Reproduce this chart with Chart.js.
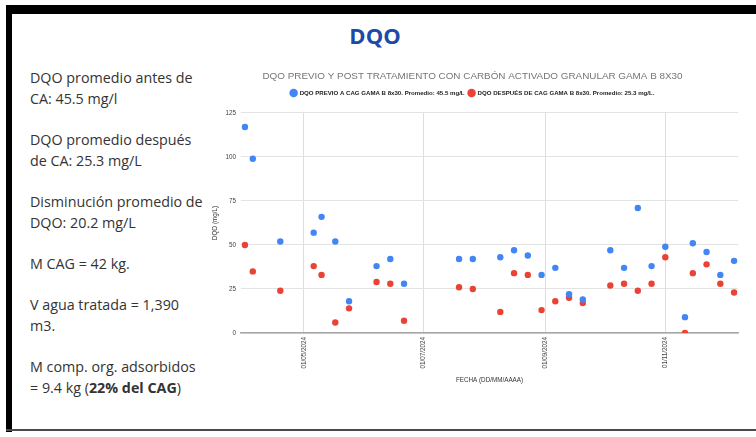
<!DOCTYPE html>
<html>
<head>
<meta charset="utf-8">
<script src="https://cdn.jsdelivr.net/npm/chart.js@4.4.1/dist/chart.umd.min.js"></script>
<style>
  html, body { margin: 0; padding: 0; background: #fff; }
  body { width: 756px; height: 437px; position: relative; overflow: hidden; }
  .bar { position: absolute; background: #000; }
  #slideTitle { position: absolute; left: 0; width: 750px; top: 20px; text-align: center;
    font-family: "Open Sans", sans-serif; font-weight: 700; font-size: 22px; color: #1b4aa7; line-height: 30px; }
  #notes { position: absolute; left: 30px; top: 67px; width: 200px;
    font-family: "Open Sans", sans-serif; font-size: 14.3px; color: #333; line-height: 21px; }
  #notes p { margin: 0 0 20px 0; }
  #wrap { position: absolute; left: 195px; top: 60px; width: 555px; height: 330px; }
</style>
</head>
<body>
<div class="bar" style="left:6px; top:5px; width:750px; height:9px;"></div>
<div class="bar" style="left:6px; top:5px; width:6px; height:427px;"></div>
<div class="bar" style="left:6px; top:429px; width:750px; height:2px; background:#4a4a4a;"></div>
<div id="slideTitle">DQO</div>
<div id="notes">
  <p>DQO promedio antes de<br>CA: 45.5 mg/l</p>
  <p>DQO promedio después<br>de CA: 25.3 mg/L</p>
  <p>Disminución promedio de<br>DQO: 20.2 mg/L</p>
  <p>M CAG = 42 kg.</p>
  <p>V agua tratada = 1,390<br>m3.</p>
  <p>M comp. org. adsorbidos<br>= 9.4 kg (<b>22% del CAG</b>)</p>
</div>
<div id="wrap"><canvas id="c"></canvas></div>
<script>
const fechas = ['2024-04-01','2024-04-05','2024-04-19','2024-05-06','2024-05-10','2024-05-17','2024-05-24',
  '2024-06-07','2024-06-14','2024-06-21','2024-07-19','2024-07-26','2024-08-09','2024-08-16','2024-08-23',
  '2024-08-30','2024-09-06','2024-09-13','2024-09-20','2024-10-04','2024-10-11','2024-10-18','2024-10-25',
  '2024-11-01','2024-11-11','2024-11-15','2024-11-22','2024-11-29','2024-12-06'];
const dqoPrevio = [117,99,52,57,66,52,18,38,42,28,42,42,43,47,44,33,37,22,19,47,37,71,38,49,9,51,46,33,41];
const dqoDespues = [50,35,24,38,33,6,14,29,28,7,26,25,12,34,33,13,18,20,17,27,28,24,28,43,0,34,39,28,23];
const tickLabels = ['01/05/2024','01/07/2024','01/09/2024','01/11/2024'];
const yTicks = [0,25,50,75,100,125];
const xRange = ['2024-03-30','2024-12-08'];
const seriesNames = ['DQO PREVIO A CAG GAMA B 8x30. Promedio: 45.5 mg/L','DQO DESPUÉS DE CAG GAMA B 8x30. Promedio: 25.3 mg/L.'];
const chartTitle = 'DQO PREVIO Y POST TRATAMIENTO CON CARBÓN ACTIVADO GRANULAR GAMA B 8X30';

const toMs = s => Date.parse(s + 'T00:00:00Z');
const fromLabel = l => { const [d,m,y] = l.split('/'); return Date.UTC(+y, +m - 1, +d); };
const fmt = v => { const d = new Date(v); const p = n => String(n).padStart(2,'0');
  return p(d.getUTCDate()) + '/' + p(d.getUTCMonth()+1) + '/' + d.getUTCFullYear(); };

const pts = arr => fechas.map((f,i) => ({x: toMs(f), y: arr[i]}));

// empty layout box between the legend and the plot area
const spacerPlugin = {
  id: 'spacer',
  beforeInit(chart) {
    const box = {
      position: 'top', weight: 500, fullSize: true, options: {},
      top: 0, left: 0, right: 0, bottom: 0, width: 0, height: 0,
      isHorizontal() { return true; },
      update(maxWidth) { this.width = maxWidth; this.height = 7; },
      draw() {}
    };
    Chart.layouts.addBox(chart, box);
  }
};

new Chart(document.getElementById('c'), {
  type: 'scatter',
  plugins: [spacerPlugin],
  data: {
    datasets: [
      { label: seriesNames[0], data: pts(dqoPrevio), backgroundColor: '#4285F4', borderWidth: 0, pointRadius: 3.2, pointHoverRadius: 3.2 },
      { label: seriesNames[1], data: pts(dqoDespues), backgroundColor: '#EA4335', borderWidth: 0, pointRadius: 3.2, pointHoverRadius: 3.2 }
    ]
  },
  options: {
    responsive: true, maintainAspectRatio: false, animation: false,
    layout: { padding: { left: 12, right: 12, top: 0, bottom: 0 } },
    plugins: {
      tooltip: { enabled: false },
      title: { display: true, text: chartTitle, color: '#757575',
        font: { family: 'Liberation Sans, Arial', size: 9.9, weight: 'normal' }, padding: { top: 10, bottom: 4 } },
      legend: { display: true, position: 'top',
        labels: { usePointStyle: true, pointStyle: 'circle', boxWidth: 6, boxHeight: 6, padding: 4,
          color: '#222', font: { family: 'Liberation Sans, Arial', size: 6.1, weight: 'bold' } } }
    },
    scales: {
      x: { type: 'linear', min: toMs(xRange[0]), max: toMs(xRange[1]),
        afterBuildTicks: s => { s.ticks = tickLabels.map(l => ({ value: fromLabel(l) })); },
        afterFit: s => { s.height = 57; },
        ticks: { callback: v => fmt(v), minRotation: 90, maxRotation: 90, padding: 4, autoSkip: false,
          color: '#444', font: { family: 'Liberation Sans, Arial', size: 6.3 } },
        grid: { color: '#dedede', drawTicks: false },
        border: { display: true, color: '#a8a8a8', width: 1.6 },
        title: { display: true, text: 'FECHA (DD/MM/AAAA)', color: '#333', padding: { top: 0, bottom: 6 },
          font: { family: 'Liberation Sans, Arial', size: 6.3 } } },
      y: { min: 0, max: 125,
        afterBuildTicks: s => { s.ticks = yTicks.map(v => ({ value: v })); },
        afterFit: s => { s.width = 34; },
        ticks: { padding: 5, color: '#444', font: { family: 'Liberation Sans, Arial', size: 6.3 } },
        grid: { color: '#e3e3e3', drawTicks: false },
        border: { display: false },
        title: { display: true, text: 'DQO (mg/L)', color: '#333', padding: { top: 4, bottom: 0 },
          font: { family: 'Liberation Sans, Arial', size: 6.3 } } }
    }
  }
});
</script>
</body>
</html>
